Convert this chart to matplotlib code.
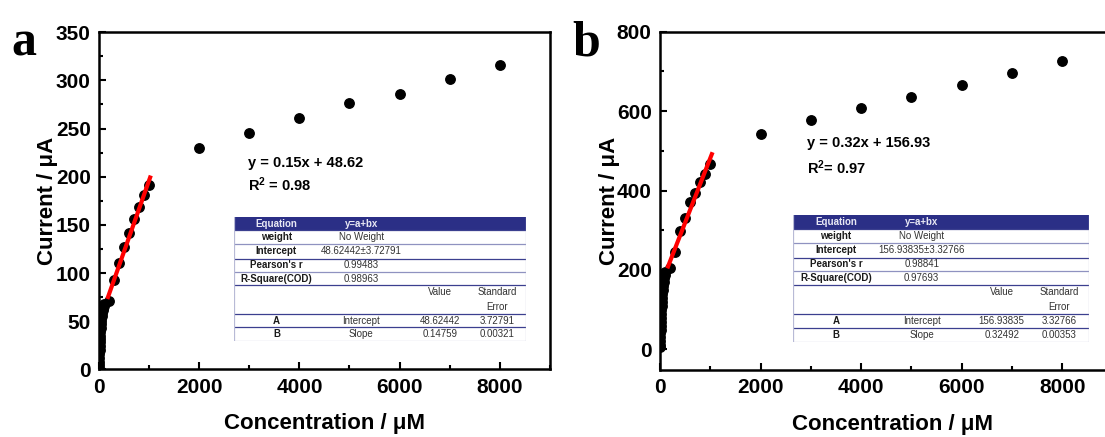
import matplotlib
matplotlib.use("Agg")
import matplotlib.pyplot as plt
from matplotlib.ticker import MultipleLocator
from matplotlib.patches import Rectangle

plt.rcParams['font.family'] = ['Liberation Sans', 'DejaVu Sans']
plt.rcParams['mathtext.default'] = 'regular'

# concentrations (uM)
conc_low = [1, 2, 3, 5, 7, 10, 12, 15, 18, 20, 25, 30, 35, 40, 45, 50, 60, 70, 80, 90, 100]
conc_lin = [200, 300, 400, 500, 600, 700, 800, 900, 1000]
conc_high = [2000, 3000, 4000, 5000, 6000, 7000, 8000]

# panel a currents (uA)
cur_a_low = [2, 5, 8, 12, 16, 20, 24, 28, 32, 35, 39, 43, 47, 50, 53, 56, 59, 62, 64, 66, 68]
cur_a_lin = [71, 93, 110, 127, 142, 156, 169, 181, 191]
cur_a_high = [230, 245, 261, 276, 286, 301, 316]

# panel b currents (uA)
cur_b_low = [5, 12, 20, 30, 40, 50, 60, 70, 80, 90, 100, 110, 120, 130, 140, 150, 160, 170, 180, 188, 195]
cur_b_lin = [204, 246, 299, 332, 372, 395, 422, 441, 467]
cur_b_high = [542, 577, 608, 635, 665, 697, 726]

# linear fits (intercept, slope) and drawn range
fit_a = (48.62442, 0.14759)
fit_b = (156.93835, 0.32492)
fit_span_a = (180, 1020)
fit_span_b = (160, 1030)

table_a = [
    ['Equation', 'y=a+bx', '', ''],
    ['weight', 'No Weight', '', ''],
    ['Intercept', '48.62442\u00b13.72791', '', ''],
    ["Pearson's r", '0.99483', '', ''],
    ['R-Square(COD)', '0.98963', '', ''],
    ['', '', 'Value', 'Standard\nError'],
    ['A', 'Intercept', '48.62442', '3.72791'],
    ['B', 'Slope', '0.14759', '0.00321'],
]
table_b = [
    ['Equation', 'y=a+bx', '', ''],
    ['weight', 'No Weight', '', ''],
    ['Intercept', '156.93835\u00b13.32766', '', ''],
    ["Pearson's r", '0.98841', '', ''],
    ['R-Square(COD)', '0.97693', '', ''],
    ['', '', 'Value', 'Standard\nError'],
    ['A', 'Intercept', '156.93835', '3.32766'],
    ['B', 'Slope', '0.32492', '0.00353'],
]

fig = plt.figure(figsize=(11.05, 4.37), dpi=100)


def style_axes(ax, ymin, ymax, ymaj):
    ax.set_xlim(0, 9000)
    ax.set_ylim(ymin, ymax)
    ax.xaxis.set_major_locator(MultipleLocator(2000))
    ax.xaxis.set_minor_locator(MultipleLocator(1000))
    ax.yaxis.set_major_locator(MultipleLocator(ymaj))
    ax.yaxis.set_minor_locator(MultipleLocator(ymaj / 2))
    ax.tick_params(which='both', direction='in', width=1.5, labelsize=15, pad=6)
    ax.tick_params(which='major', length=5)
    ax.tick_params(which='minor', length=3)
    for lab in ax.get_xticklabels() + ax.get_yticklabels():
        lab.set_fontweight('bold')
    for sp in ax.spines.values():
        sp.set_linewidth(1.8)
    ax.set_xlabel('Concentration / \u03bcM', fontsize=16, fontweight='bold', labelpad=12)
    ax.set_ylabel('Current / \u03bcA', fontsize=16, fontweight='bold', labelpad=-2)


def plot_panel(ax, low, lin, high, fit, span):
    ax.plot(conc_low, low, 'o', color='black', ms=6.8)
    ax.plot(conc_lin, lin, 'o', color='black', ms=6.8)
    ax.plot(conc_high, high, 'o', color='black', ms=6.8)
    xs = list(span)
    ax.plot(xs, [fit[0] + fit[1] * x for x in xs], color='red', lw=3)


def draw_table(rect, rows):
    tab = fig.add_axes(rect)
    tab.set_xlim(0, 1)
    tab.set_ylim(1, 0)
    tab.axis('off')
    edges = [0, 0.108, 0.218, 0.336, 0.444, 0.552, 0.78, 0.89, 1.0]
    tab.add_patch(Rectangle((0, 0), 1, edges[1], color='#2b2f86', lw=0))
    line_col = ['#3b3f8f', '#8f92c0', '#3b3f8f', '#8f92c0', '#3b3f8f', '#3b3f8f', '#3b3f8f', '#c5c7dd']
    for y, c in zip(edges[1:], line_col):
        tab.plot([0, 1], [y, y], color=c, lw=0.9)
    tab.plot([0, 0], [0, 1], color='#b8bad6', lw=0.9)
    tab.plot([1, 1], [0, 1], color='#b8bad6', lw=0.9)
    col_x = [0.145, 0.435, 0.705, 0.90]
    for i, row in enumerate(rows):
        top, bot = edges[i], edges[i + 1]
        for j, txt in enumerate(row):
            if not txt:
                continue
            if i == 0:
                color, weight = '#e8e8f4', 'bold'
            elif j == 0:
                color, weight = '#1a1a1a', 'bold'
            else:
                color, weight = '#333333', 'normal'
            lines = txt.split('\n')
            if i == 5:
                ys = [top + (bot - top) * 0.25, top + (bot - top) * 0.75]
            else:
                ys = [(top + bot) / 2]
            for t, y in zip(lines, ys):
                tab.text(col_x[j], y, t, ha='center', va='center',
                         fontsize=7, color=color, fontweight=weight)


ax_a = fig.add_axes([0.0896, 0.1545, 0.408, 0.772])
plot_panel(ax_a, cur_a_low, cur_a_lin, cur_a_high, fit_a, fit_span_a)
style_axes(ax_a, 0, 350, 50)
ax_a.text(0.33, 0.6, 'y = 0.15x + 48.62', transform=ax_a.transAxes, fontsize=10.5, fontweight='bold')
ax_a.text(0.33, 0.53, 'R$^2$ = 0.98', transform=ax_a.transAxes, fontsize=10.5, fontweight='bold')

ax_b = fig.add_axes([0.5973, 0.1533, 0.42, 0.774])
plot_panel(ax_b, cur_b_low, cur_b_lin, cur_b_high, fit_b, fit_span_b)
style_axes(ax_b, -52, 800, 200)
# keep the 0..9000 scale of the original, the right part falls off the page
ax_b.set_xlim(0, 9000 * 0.42 / 0.4095)
ax_b.text(0.316, 0.66, 'y = 0.32x + 156.93', transform=ax_b.transAxes, fontsize=10.5, fontweight='bold')
ax_b.text(0.316, 0.58, 'R$^2$= 0.97', transform=ax_b.transAxes, fontsize=10.5, fontweight='bold')

draw_table([0.2118, 0.2197, 0.2643, 0.2838], table_a)
draw_table([0.7176, 0.2181, 0.2679, 0.2900], table_b)

fig.text(0.010, 0.872, 'a', fontsize=36, fontweight='bold', family='Liberation Serif')
fig.text(0.518, 0.872, 'b', fontsize=36, fontweight='bold', family='Liberation Serif')

fig.savefig('out.png', dpi=100)
